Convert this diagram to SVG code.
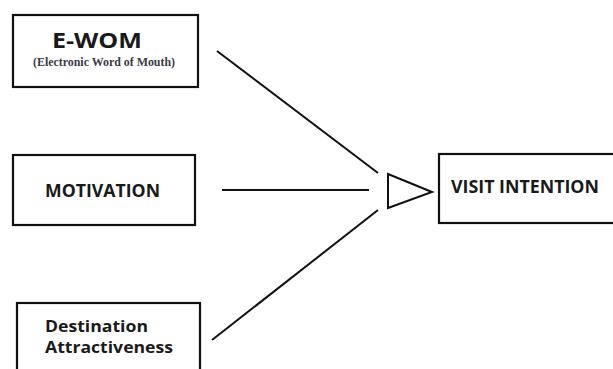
<svg xmlns="http://www.w3.org/2000/svg" width="613" height="369" viewBox="0 0 613 369">
<style>
.box{fill:#fff;stroke:#111;stroke-width:2.2}
.lbl{font-family:"Open Sans","Liberation Sans",sans-serif;font-weight:bold;fill:#1a1a1a}
.sub{font-family:"Liberation Serif",serif;font-weight:bold;fill:#3a3a48}
.con{stroke:#111;stroke-width:2;fill:none}
</style>
<rect width="613" height="369" fill="#fff"/>
<g id="ewom">
<rect class="box" x="13" y="15" width="185" height="72"/>
<text class="lbl" x="52" y="48" font-size="22" textLength="90" lengthAdjust="spacingAndGlyphs">E-WOM</text>
<text class="sub" x="33" y="66" font-size="12.5" textLength="142" lengthAdjust="spacingAndGlyphs">(Electronic Word of Mouth)</text>
</g>
<g id="motivation">
<rect class="box" x="13" y="155" width="182" height="70"/>
<text class="lbl" x="45" y="197" font-size="17.5" textLength="115" lengthAdjust="spacingAndGlyphs">MOTIVATION</text>
</g>
<g id="destination">
<rect class="box" x="17" y="303" width="183" height="80"/>
<text class="lbl" x="45" y="332" font-size="15.2" textLength="103" lengthAdjust="spacingAndGlyphs">Destination</text>
<text class="lbl" x="45" y="353" font-size="15.2" textLength="128" lengthAdjust="spacingAndGlyphs">Attractiveness</text>
</g>
<g id="visit">
<rect class="box" x="439" y="154" width="190" height="69"/>
<text class="lbl" x="451" y="193" font-size="17.5" textLength="148" lengthAdjust="spacingAndGlyphs">VISIT INTENTION</text>
</g>
<g id="connectors">
<line class="con" x1="217" y1="51" x2="378" y2="173"/>
<line class="con" x1="222" y1="190" x2="369" y2="190"/>
<line class="con" x1="212" y1="340" x2="378" y2="210"/>
<polygon class="con" points="388,174 432,192 388,208"/>
</g>
</svg>
